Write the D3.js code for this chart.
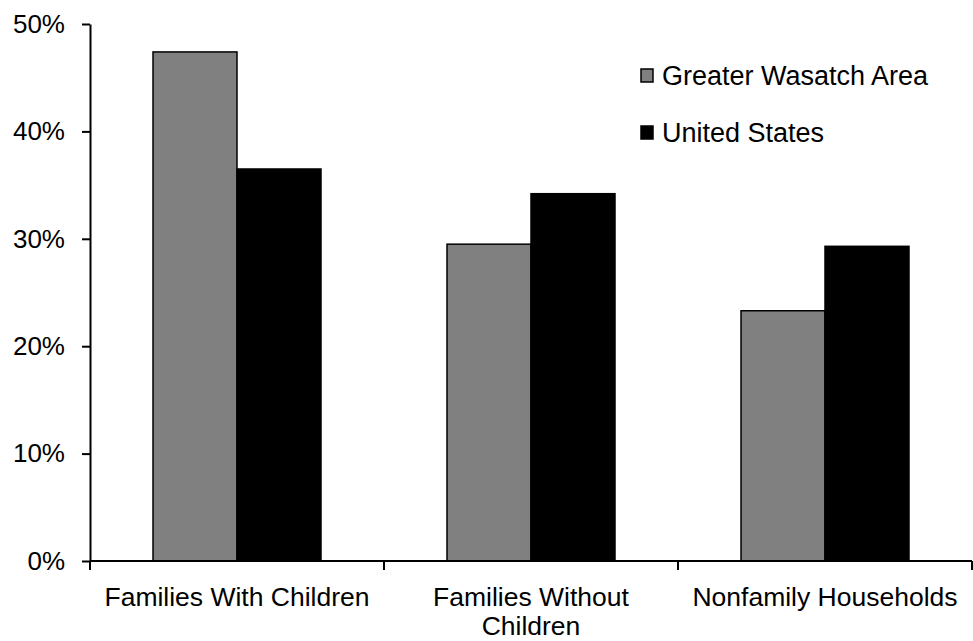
<!DOCTYPE html>
<html>
<head>
<meta charset="utf-8">
<script src="https://cdn.jsdelivr.net/npm/d3@7"></script>
<style>
  html, body { margin: 0; padding: 0; background: #fff; }
  svg { display: block; font-family: "Liberation Sans", Arial, sans-serif; }
</style>
</head>
<body>
<svg id="chart" width="973" height="641"></svg>
<script>
// Household composition shares
const categories = ["Families With Children", "Families Without Children", "Nonfamily Households"];
const categoryLines = [["Families With Children"], ["Families Without", "Children"], ["Nonfamily Households"]];
const seriesNames = ["Greater Wasatch Area", "United States"];
const wasatch = [47.4, 29.5, 23.3];
const unitedStates = [36.5, 34.2, 29.3];
const yTicks = [0, 10, 20, 30, 40, 50];
const seriesColors = ["#808080", "#000000"];

const svg = d3.select("#chart");
const x0 = 90, x1 = 972, yTop = 24, yBot = 561;
const FS = 26, LABEL_FS = 26.5, LEGEND_FS = 27;

const x = d3.scaleBand().domain(categories).range([x0, x1]).paddingInner(0).paddingOuter(0);
const inner = d3.scaleBand().domain(seriesNames).range([0, x.bandwidth()]).paddingOuter(0.75).paddingInner(0);
const y = d3.scaleLinear().domain([0, 50]).range([yBot, yTop]);

const series = [wasatch, unitedStates];

// Bars
seriesNames.forEach((name, si) => {
  svg.append("g").selectAll("rect")
    .data(categories)
    .join("rect")
    .attr("x", c => x(c) + inner(name))
    .attr("y", (c, i) => y(series[si][i]))
    .attr("width", inner.bandwidth())
    .attr("height", (c, i) => y(0) - y(series[si][i]))
    .attr("fill", seriesColors[si])
    .attr("stroke", "#000")
    .attr("stroke-width", 1.5);
});

// Y axis
const yAxis = svg.append("g")
  .attr("transform", `translate(${x0},0)`)
  .call(d3.axisLeft(y).tickValues(yTicks).tickFormat(d => d + "%").tickSize(8).tickSizeOuter(0));
yAxis.attr("font-size", FS).attr("font-family", "Liberation Sans, Arial, sans-serif");
yAxis.select(".domain").attr("stroke", "#000").attr("stroke-width", 2);
yAxis.selectAll(".tick line").attr("stroke", "#000").attr("stroke-width", 2);
yAxis.selectAll(".tick text")
  .attr("x", -25)
  .attr("fill", "#000");

// X axis with boundary ticks between categories
const xAxisG = svg.append("g");
xAxisG.append("line")
  .attr("x1", x0).attr("x2", x1)
  .attr("y1", yBot).attr("y2", yBot)
  .attr("stroke", "#000").attr("stroke-width", 2);
const boundaries = categories.map(c => x(c)).concat([x(categories[categories.length - 1]) + x.bandwidth()]);
xAxisG.selectAll("line.tick")
  .data(boundaries)
  .join("line")
  .attr("class", "tick")
  .attr("x1", d => d).attr("x2", d => d)
  .attr("y1", yBot).attr("y2", yBot + 9)
  .attr("stroke", "#000").attr("stroke-width", 2);

// Category labels
categories.forEach((c, i) => {
  const t = svg.append("text")
    .attr("x", x(c) + x.bandwidth() / 2)
    .attr("y", 606)
    .attr("text-anchor", "middle")
    .attr("font-size", LABEL_FS)
    .attr("fill", "#000");
  categoryLines[i].forEach((line, li) => {
    t.append("tspan")
      .attr("x", x(c) + x.bandwidth() / 2)
      .attr("dy", li === 0 ? 0 : 29)
      .text(line);
  });
});

// Legend
const legend = svg.append("g");
seriesNames.forEach((name, si) => {
  const sy = 69 + si * 57;
  legend.append("rect")
    .attr("x", 641).attr("y", sy)
    .attr("width", 12).attr("height", 13)
    .attr("fill", seriesColors[si])
    .attr("stroke", "#000").attr("stroke-width", 1.5);
  legend.append("text")
    .attr("x", 662).attr("y", sy + 16)
    .attr("font-size", LEGEND_FS)
    .attr("fill", "#000")
    .text(name);
});
</script>
</body>
</html>
